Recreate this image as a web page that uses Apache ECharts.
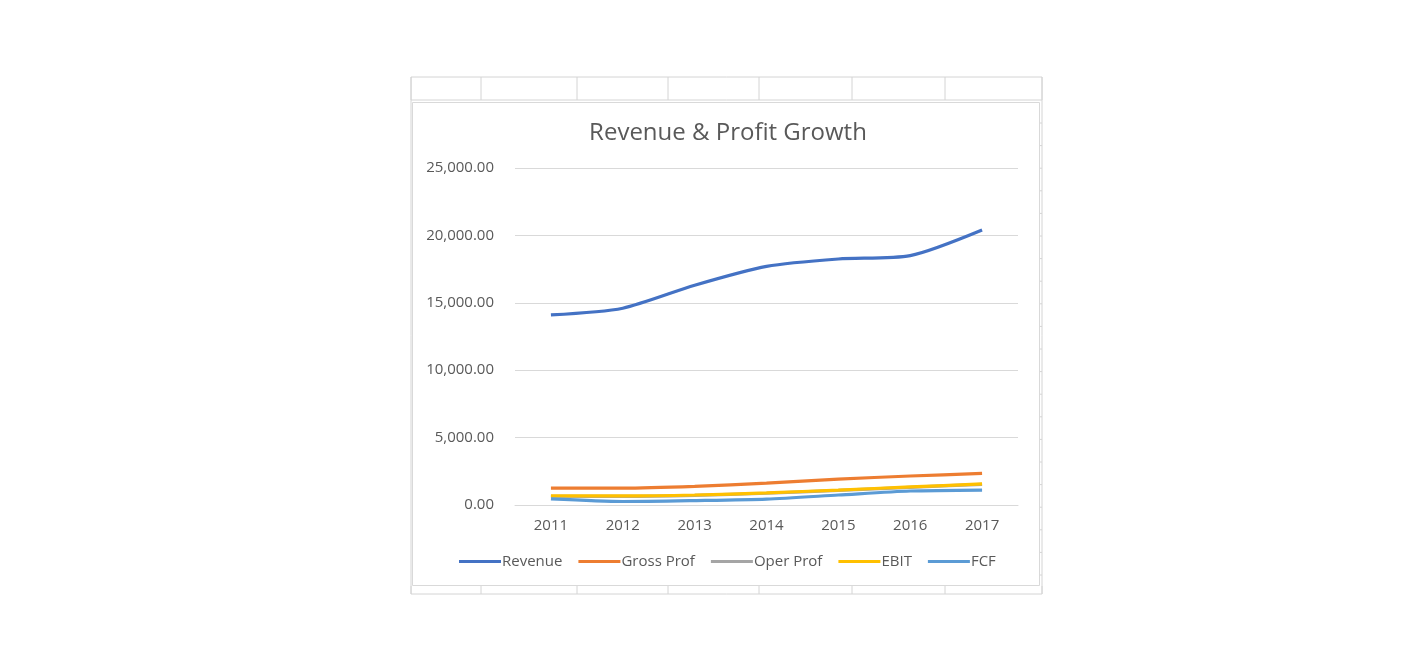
<!DOCTYPE html>
<html>
<head>
<meta charset="utf-8">
<script src="https://cdn.jsdelivr.net/npm/echarts@6/dist/echarts.min.js"></script>
<style>
html,body{margin:0;padding:0;background:#fff;}
#c{width:1416px;height:662px;}
</style>
</head>
<body>
<div id="c"></div>
<script>
const categories = ['2011','2012','2013','2014','2015','2016','2017'];
const revenue   = [14100, 14600, 16300, 17700, 18250, 18500, 20400];
const grossProf = [1250, 1250, 1380, 1620, 1920, 2150, 2340];
const operProf  = [650, 640, 710, 870, 1080, 1310, 1530];
const ebit      = [680, 670, 740, 900, 1110, 1340, 1560];
const fcf       = [450, 260, 330, 440, 740, 1040, 1110];
const seriesNames = ['Revenue','Gross Prof','Oper Prof','EBIT','FCF'];
const seriesColors = ['#4472C4','#ED7D31','#A5A5A5','#FFC000','#5B9BD5'];
const seriesData = [revenue, grossProf, operProf, ebit, fcf];

const chart = echarts.init(document.getElementById('c'));

// spreadsheet grid decoration
const gridColor = '#d4d4d4';
const graphics = [];
const colX = [411, 481, 577, 668, 759, 852, 945, 1042];
colX.forEach(x => {
  graphics.push({type:'line', shape:{x1:x,y1:77,x2:x,y2:100}, style:{stroke:gridColor,lineWidth:1}, z:-10});
  graphics.push({type:'line', shape:{x1:x,y1:586,x2:x,y2:594}, style:{stroke:gridColor,lineWidth:1}, z:-10});
});
[77,100,594].forEach(y => {
  graphics.push({type:'line', shape:{x1:411,y1:y,x2:1042,y2:y}, style:{stroke:gridColor,lineWidth:1}, z:-10});
});
graphics.push({type:'line', shape:{x1:411,y1:77,x2:411,y2:594}, style:{stroke:gridColor,lineWidth:1}, z:-10});
graphics.push({type:'line', shape:{x1:1042,y1:77,x2:1042,y2:594}, style:{stroke:gridColor,lineWidth:1}, z:-10});
for (let y = 123; y < 590; y += 22.6) {
  graphics.push({type:'line', shape:{x1:1039,y1:y,x2:1042,y2:y}, style:{stroke:gridColor,lineWidth:1}, z:-10});
}
// chart area box
graphics.push({type:'rect', shape:{x:412.5,y:102.5,width:627,height:483}, style:{fill:'#fff',stroke:'#d9d9d9',lineWidth:1}, z:-5});

chart.setOption({
  animation:false,
  graphic: graphics,
  title:{
    text:'Revenue & Profit Growth',
    left:723, textAlign:'center', top:116,
    textStyle:{fontFamily:'Open Sans', fontSize:24, fontWeight:'normal', color:'#595959'}
  },
  legend:{
    data: seriesNames,
    top:549, left:454,
    itemWidth:42, itemHeight:3, itemGap:16,
    icon:'rect',
    textStyle:{fontFamily:'Open Sans', fontSize:15, color:'#595959', padding:[0,0,0,-4]}
  },
  grid:{left:515, right:398, top:168, bottom:157},
  xAxis:{
    type:'category', data:categories, boundaryGap:true,
    axisLine:{lineStyle:{color:'#d9d9d9'}},
    axisTick:{show:false},
    axisLabel:{fontFamily:'Open Sans', fontSize:15, color:'#595959', margin:13}
  },
  yAxis:{
    type:'value', min:0, max:25000, interval:5000,
    axisLine:{show:false}, axisTick:{show:false},
    splitLine:{lineStyle:{color:'#d9d9d9'}},
    axisLabel:{fontFamily:'Open Sans', fontSize:15, color:'#595959', margin:21,
      formatter: v => v.toLocaleString('en-US',{minimumFractionDigits:2, maximumFractionDigits:2})}
  },
  series: seriesNames.map((n,i) => ({
    name:n, type:'line', data:seriesData[i], smooth:0.25,
    showSymbol:false, symbol:'none',
    lineStyle:{width:3.2, color:seriesColors[i]},
    itemStyle:{color:seriesColors[i]}
  }))
});
</script>
</body>
</html>
